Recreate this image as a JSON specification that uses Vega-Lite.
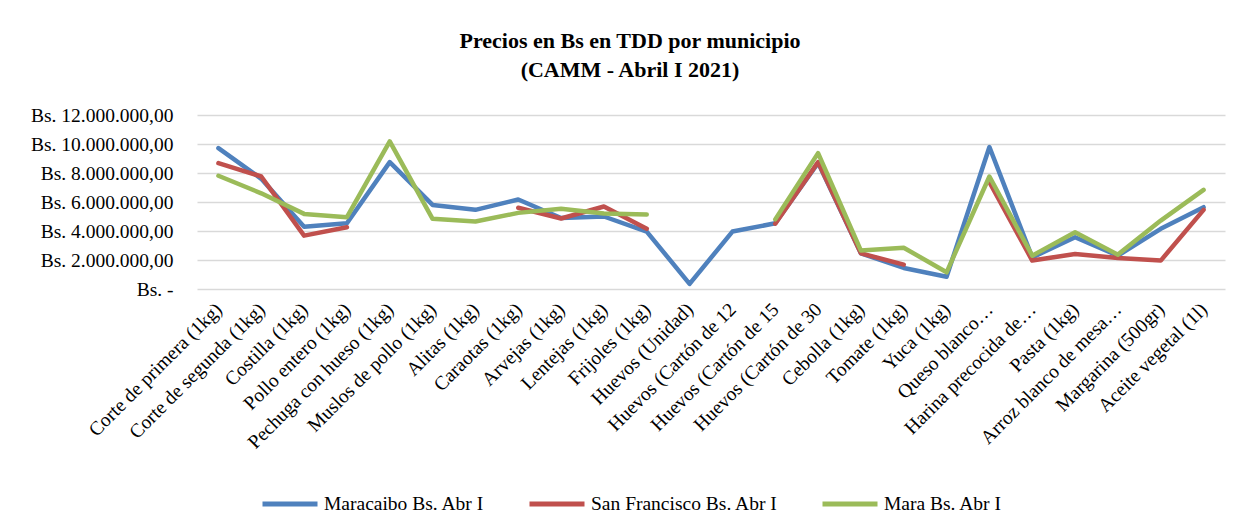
{
  "$schema": "https://vega.github.io/schema/vega-lite/v6.json",
  "width": 1028,
  "height": 174,
  "autosize": {"type": "none"},
  "padding": {"left": 197, "top": 115, "right": 25, "bottom": 243},
  "background": "white",
  "config": {
    "locale": {"number": {"decimal": ",", "thousands": ".", "grouping": [3], "currency": ["Bs. ", ""]}},
    "font": "Liberation Serif",
    "view": {"stroke": null}
  },
  "title": {
    "text": ["Precios en Bs en TDD por municipio", "(CAMM - Abril I 2021)"],
    "font": "Liberation Serif",
    "fontSize": 22,
    "fontWeight": "bold",
    "lineHeight": 29,
    "color": "#000000",
    "anchor": "middle",
    "dx": -81,
    "offset": 23
  },
  "data": {"values": [
    {"producto": "Corte de primera (1kg)", "municipio": "Maracaibo Bs. Abr I", "precio": 9720000},
    {"producto": "Corte de primera (1kg)", "municipio": "San Francisco Bs. Abr I", "precio": 8680000},
    {"producto": "Corte de primera (1kg)", "municipio": "Mara Bs. Abr I", "precio": 7810000},
    {"producto": "Corte de segunda (1kg)", "municipio": "Maracaibo Bs. Abr I", "precio": 7600000},
    {"producto": "Corte de segunda (1kg)", "municipio": "San Francisco Bs. Abr I", "precio": 7760000},
    {"producto": "Corte de segunda (1kg)", "municipio": "Mara Bs. Abr I", "precio": 6600000},
    {"producto": "Costilla (1kg)", "municipio": "Maracaibo Bs. Abr I", "precio": 4300000},
    {"producto": "Costilla (1kg)", "municipio": "San Francisco Bs. Abr I", "precio": 3680000},
    {"producto": "Costilla (1kg)", "municipio": "Mara Bs. Abr I", "precio": 5180000},
    {"producto": "Pollo entero (1kg)", "municipio": "Maracaibo Bs. Abr I", "precio": 4530000},
    {"producto": "Pollo entero (1kg)", "municipio": "San Francisco Bs. Abr I", "precio": 4260000},
    {"producto": "Pollo entero (1kg)", "municipio": "Mara Bs. Abr I", "precio": 4950000},
    {"producto": "Pechuga con hueso (1kg)", "municipio": "Maracaibo Bs. Abr I", "precio": 8750000},
    {"producto": "Pechuga con hueso (1kg)", "municipio": "San Francisco Bs. Abr I", "precio": null},
    {"producto": "Pechuga con hueso (1kg)", "municipio": "Mara Bs. Abr I", "precio": 10180000},
    {"producto": "Muslos de pollo (1kg)", "municipio": "Maracaibo Bs. Abr I", "precio": 5800000},
    {"producto": "Muslos de pollo (1kg)", "municipio": "San Francisco Bs. Abr I", "precio": null},
    {"producto": "Muslos de pollo (1kg)", "municipio": "Mara Bs. Abr I", "precio": 4840000},
    {"producto": "Alitas (1kg)", "municipio": "Maracaibo Bs. Abr I", "precio": 5460000},
    {"producto": "Alitas (1kg)", "municipio": "San Francisco Bs. Abr I", "precio": null},
    {"producto": "Alitas (1kg)", "municipio": "Mara Bs. Abr I", "precio": 4650000},
    {"producto": "Caraotas (1kg)", "municipio": "Maracaibo Bs. Abr I", "precio": 6170000},
    {"producto": "Caraotas (1kg)", "municipio": "San Francisco Bs. Abr I", "precio": 5600000},
    {"producto": "Caraotas (1kg)", "municipio": "Mara Bs. Abr I", "precio": 5250000},
    {"producto": "Arvejas (1kg)", "municipio": "Maracaibo Bs. Abr I", "precio": 4900000},
    {"producto": "Arvejas (1kg)", "municipio": "San Francisco Bs. Abr I", "precio": 4860000},
    {"producto": "Arvejas (1kg)", "municipio": "Mara Bs. Abr I", "precio": 5530000},
    {"producto": "Lentejas (1kg)", "municipio": "Maracaibo Bs. Abr I", "precio": 5000000},
    {"producto": "Lentejas (1kg)", "municipio": "San Francisco Bs. Abr I", "precio": 5690000},
    {"producto": "Lentejas (1kg)", "municipio": "Mara Bs. Abr I", "precio": 5200000},
    {"producto": "Frijoles (1kg)", "municipio": "Maracaibo Bs. Abr I", "precio": 3960000},
    {"producto": "Frijoles (1kg)", "municipio": "San Francisco Bs. Abr I", "precio": 4150000},
    {"producto": "Frijoles (1kg)", "municipio": "Mara Bs. Abr I", "precio": 5140000},
    {"producto": "Huevos (Unidad)", "municipio": "Maracaibo Bs. Abr I", "precio": 350000},
    {"producto": "Huevos (Unidad)", "municipio": "San Francisco Bs. Abr I", "precio": null},
    {"producto": "Huevos (Unidad)", "municipio": "Mara Bs. Abr I", "precio": null},
    {"producto": "Huevos (Cartón de 12", "municipio": "Maracaibo Bs. Abr I", "precio": 3960000},
    {"producto": "Huevos (Cartón de 12", "municipio": "San Francisco Bs. Abr I", "precio": null},
    {"producto": "Huevos (Cartón de 12", "municipio": "Mara Bs. Abr I", "precio": null},
    {"producto": "Huevos (Cartón de 15", "municipio": "Maracaibo Bs. Abr I", "precio": 4530000},
    {"producto": "Huevos (Cartón de 15", "municipio": "San Francisco Bs. Abr I", "precio": 4500000},
    {"producto": "Huevos (Cartón de 15", "municipio": "Mara Bs. Abr I", "precio": 4800000},
    {"producto": "Huevos (Cartón de 30", "municipio": "Maracaibo Bs. Abr I", "precio": 8700000},
    {"producto": "Huevos (Cartón de 30", "municipio": "San Francisco Bs. Abr I", "precio": 8750000},
    {"producto": "Huevos (Cartón de 30", "municipio": "Mara Bs. Abr I", "precio": 9370000},
    {"producto": "Cebolla (1kg)", "municipio": "Maracaibo Bs. Abr I", "precio": 2460000},
    {"producto": "Cebolla (1kg)", "municipio": "San Francisco Bs. Abr I", "precio": 2460000},
    {"producto": "Cebolla (1kg)", "municipio": "Mara Bs. Abr I", "precio": 2650000},
    {"producto": "Tomate (1kg)", "municipio": "Maracaibo Bs. Abr I", "precio": 1450000},
    {"producto": "Tomate (1kg)", "municipio": "San Francisco Bs. Abr I", "precio": 1680000},
    {"producto": "Tomate (1kg)", "municipio": "Mara Bs. Abr I", "precio": 2850000},
    {"producto": "Yuca (1kg)", "municipio": "Maracaibo Bs. Abr I", "precio": 850000},
    {"producto": "Yuca (1kg)", "municipio": "San Francisco Bs. Abr I", "precio": null},
    {"producto": "Yuca (1kg)", "municipio": "Mara Bs. Abr I", "precio": 1150000},
    {"producto": "Queso blanco…", "municipio": "Maracaibo Bs. Abr I", "precio": 9790000},
    {"producto": "Queso blanco…", "municipio": "San Francisco Bs. Abr I", "precio": 7370000},
    {"producto": "Queso blanco…", "municipio": "Mara Bs. Abr I", "precio": 7760000},
    {"producto": "Harina precocida de…", "municipio": "Maracaibo Bs. Abr I", "precio": 2180000},
    {"producto": "Harina precocida de…", "municipio": "San Francisco Bs. Abr I", "precio": 1960000},
    {"producto": "Harina precocida de…", "municipio": "Mara Bs. Abr I", "precio": 2300000},
    {"producto": "Pasta (1kg)", "municipio": "Maracaibo Bs. Abr I", "precio": 3570000},
    {"producto": "Pasta (1kg)", "municipio": "San Francisco Bs. Abr I", "precio": 2420000},
    {"producto": "Pasta (1kg)", "municipio": "Mara Bs. Abr I", "precio": 3910000},
    {"producto": "Arroz blanco de mesa…", "municipio": "Maracaibo Bs. Abr I", "precio": 2300000},
    {"producto": "Arroz blanco de mesa…", "municipio": "San Francisco Bs. Abr I", "precio": 2140000},
    {"producto": "Arroz blanco de mesa…", "municipio": "Mara Bs. Abr I", "precio": 2370000},
    {"producto": "Margarina (500gr)", "municipio": "Maracaibo Bs. Abr I", "precio": 4150000},
    {"producto": "Margarina (500gr)", "municipio": "San Francisco Bs. Abr I", "precio": 1960000},
    {"producto": "Margarina (500gr)", "municipio": "Mara Bs. Abr I", "precio": 4720000},
    {"producto": "Aceite vegetal (1l)", "municipio": "Maracaibo Bs. Abr I", "precio": 5640000},
    {"producto": "Aceite vegetal (1l)", "municipio": "San Francisco Bs. Abr I", "precio": 5460000},
    {"producto": "Aceite vegetal (1l)", "municipio": "Mara Bs. Abr I", "precio": 6840000}
  ]},
  "mark": {"type": "line", "strokeWidth": 4.5, "strokeCap": "round", "strokeJoin": "round", "invalid": "break-paths-show-domains"},
  "encoding": {
    "x": {
      "field": "producto",
      "type": "nominal",
      "sort": null,
      "scale": {"type": "point", "padding": 0.5},
      "axis": {
        "title": null,
        "labelAngle": -45,
        "labelAlign": "right",
        "labelBaseline": "middle",
        "labelFont": "Liberation Serif",
        "labelFontSize": 19.5,
        "labelColor": "#000000",
        "labelPadding": 17,
        "labelLimit": 400,
        "labelOverlap": false,
        "ticks": false,
        "domain": false,
        "grid": false
      }
    },
    "y": {
      "field": "precio",
      "type": "quantitative",
      "scale": {"domain": [0, 12000000], "nice": false},
      "axis": {
        "title": null,
        "values": [0, 2000000, 4000000, 6000000, 8000000, 10000000, 12000000],
        "format": "$,.2f",
        "labelExpr": "datum.value == 0 ? 'Bs. -' : datum.label",
        "labelFont": "Liberation Serif",
        "labelFontSize": 19.5,
        "labelColor": "#000000",
        "labelPadding": 24,
        "labelLimit": 300,
        "ticks": false,
        "domain": false,
        "grid": true,
        "gridColor": "#d9d9d9",
        "gridWidth": 1.5
      }
    },
    "color": {
      "field": "municipio",
      "type": "nominal",
      "scale": {
        "domain": ["Maracaibo Bs. Abr I", "San Francisco Bs. Abr I", "Mara Bs. Abr I"],
        "range": ["#4f81bd", "#c0504d", "#9bbb59"]
      },
      "legend": {
        "title": null,
        "orient": "none",
        "direction": "horizontal",
        "legendX": 63,
        "legendY": 359,
        "symbolType": "stroke",
        "symbolSize": 3025,
        "symbolStrokeWidth": 5,
        "labelFont": "Liberation Serif",
        "labelFontSize": 19.5,
        "labelLimit": 400,
        "labelColor": "#000000",
        "labelOffset": 4,
        "columnPadding": 34
      }
    }
  }
}
